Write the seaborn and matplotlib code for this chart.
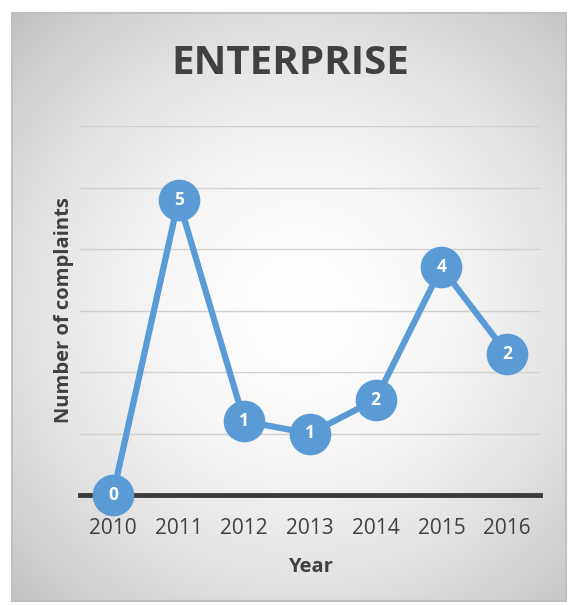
import numpy as np
import pandas as pd
import matplotlib
matplotlib.use("Agg")
import matplotlib.pyplot as plt
import seaborn as sns

years = ["2010", "2011", "2012", "2013", "2014", "2015", "2016"]
values = [0.0, 4.8, 1.2, 1.0, 1.55, 3.7, 2.3]
labels = ["0", "5", "1", "1", "2", "4", "2"]

sns.set_style("white")
plt.rcParams['font.family'] = ['Open Sans', 'DejaVu Sans']

W, H = 573, 606
fig = plt.figure(figsize=(W / 100, H / 100), dpi=100)

# background: radial gradient panel with border
bg = fig.add_axes([0, 0, 1, 1], zorder=0)
bg.set_xlim(0, W)
bg.set_ylim(H, 0)
bg.axis("off")
x0, x1, y0, y1 = 12, 566, 13, 601
yy, xx = np.mgrid[y0:y1, x0:x1]
cx, cy = 300, 310
r = np.sqrt(((xx - cx) / 370.0) ** 2 + ((yy - cy) / 370.0) ** 2)
v = 1.0 - 0.2 * np.clip(r, 0, 1.2) ** 1.8
img = np.dstack([v, v, v])
bg.imshow(img, extent=(x0, x1, y1, y0), aspect="auto", interpolation="bilinear")
bg.add_patch(plt.Rectangle((x0, y0), x1 - x0, y1 - y0, fill=False,
                           edgecolor="#c0c0c0", linewidth=1.5))

# main axes
ax_l, ax_r = 80, 540
ax_t, ax_b = 126, 495
ax = fig.add_axes([ax_l / W, 1 - ax_b / H, (ax_r - ax_l) / W, (ax_b - ax_t) / H], zorder=1)
ax.patch.set_alpha(0)

df = pd.DataFrame({"Year": years, "Complaints": values})
sns.lineplot(data=df, x="Year", y="Complaints", ax=ax, color="#5B9BD5",
             linewidth=4.5, marker="o", markersize=30, markeredgewidth=0,
             clip_on=False, zorder=3)

for i, (val, lab) in enumerate(zip(values, labels)):
    ax.text(i, val, lab, ha="center", va="center", color="white",
            fontsize=12.5, fontweight="bold", zorder=5)

ax.set_xlim(-0.5, 6.5)
ax.set_ylim(0, 6)
ax.set_yticks(range(1, 7))
ax.yaxis.grid(True, color="#d0d0d0", linewidth=1)
ax.set_axisbelow(True)
ax.tick_params(axis="y", left=False, labelleft=False)
ax.tick_params(axis="x", bottom=False, labelsize=15, labelcolor="#404040", pad=13)
for s in ["top", "right", "left"]:
    ax.spines[s].set_visible(False)
ax.spines["bottom"].set_color("#3a3a3a")
ax.spines["bottom"].set_linewidth(3.5)
ax.spines["bottom"].set_zorder(2)

ax.set_xlabel("Year", fontsize=14.5, fontweight="bold", color="#404040", labelpad=13)
ax.set_ylabel("Number of complaints", fontsize=14.5, fontweight="bold", color="#404040", labelpad=4)

fig.text(290.5 / W, 1 - 64 / H, "ENTERPRISE", ha="center", va="center",
         fontsize=29, fontweight="bold", color="#404040")

fig.savefig("out.png", dpi=100)
